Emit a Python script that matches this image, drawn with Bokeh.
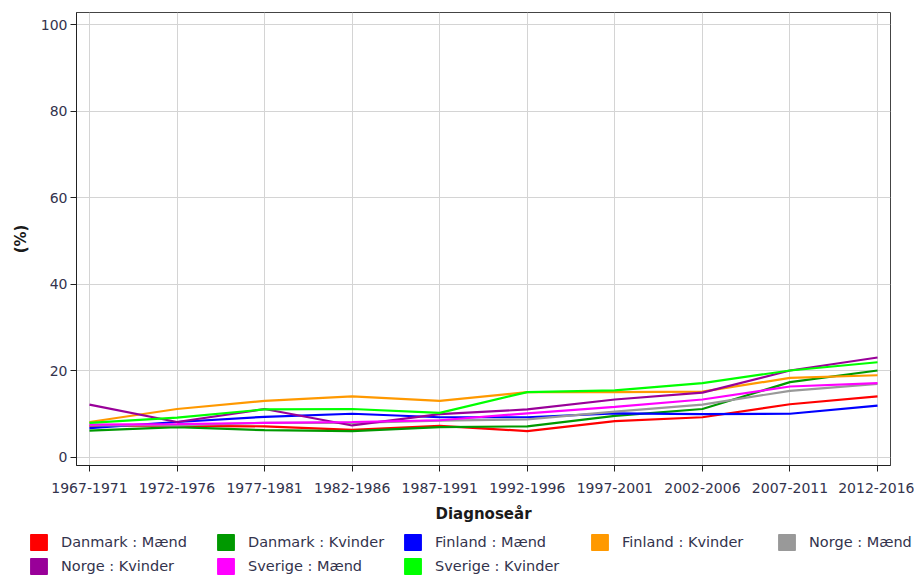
from bokeh.plotting import figure
from bokeh.layouts import column, row
from bokeh.models import (ColumnDataSource, Range1d, FixedTicker, Legend, LegendItem)
from bokeh.embed import file_html
from bokeh.resources import INLINE

periods = ["1967-1971", "1972-1976", "1977-1981", "1982-1986", "1987-1991",
           "1992-1996", "1997-2001", "2002-2006", "2007-2011", "2012-2016"]

danmark_maend = [7.3, 7.3, 7.2, 6.4, 7.3, 6.1, 8.4, 9.3, 12.3, 14.1]
danmark_kvinder = [6.2, 7.0, 6.3, 6.1, 7.0, 7.2, 9.6, 11.2, 17.4, 20.1]
finland_maend = [6.8, 8.2, 9.4, 10.1, 9.3, 9.3, 10.2, 10.0, 10.1, 12.0]
finland_kvinder = [8.2, 11.2, 13.1, 14.1, 13.1, 15.1, 15.1, 15.2, 18.4, 19.0]
norge_maend = [7.4, 7.4, 8.0, 8.0, 8.5, 8.8, 10.6, 12.2, 15.4, 17.0]
norge_kvinder = [12.2, 8.2, 11.2, 7.4, 10.0, 11.1, 13.4, 15.0, 20.1, 23.1]
sverige_maend = [7.6, 7.7, 8.0, 8.2, 8.6, 10.2, 11.7, 13.4, 16.4, 17.2]
sverige_kvinder = [8.0, 9.2, 11.1, 11.2, 10.3, 15.1, 15.5, 17.2, 20.1, 22.0]

series_names = ["Danmark : Mænd", "Danmark : Kvinder", "Finland : Mænd",
                "Finland : Kvinder", "Norge : Mænd", "Norge : Kvinder",
                "Sverige : Mænd", "Sverige : Kvinder"]
series_values = [danmark_maend, danmark_kvinder, finland_maend, finland_kvinder,
                 norge_maend, norge_kvinder, sverige_maend, sverige_kvinder]
series_colors = ["#ff0000", "#009900", "#0000ff", "#ff9900",
                 "#999999", "#990099", "#ff00ff", "#00ff00"]

y_ticks = [0, 20, 40, 60, 80, 100]

FONT = "DejaVu Sans"
TXT = "#33334d"

p = figure(width=914, height=526, output_backend="svg", toolbar_location=None,
           x_range=Range1d(-0.148, 9.148), y_range=Range1d(-1.85, 102.8),
           min_border_left=76, min_border_right=24, min_border_top=12,
           min_border_bottom=61)

xs = list(range(len(periods)))
p.xaxis.ticker = FixedTicker(ticks=xs)
p.xaxis.major_label_overrides = {i: lab for i, lab in enumerate(periods)}
p.yaxis.ticker = FixedTicker(ticks=y_ticks)

for ax in (p.xaxis[0], p.yaxis[0]):
    ax.major_label_text_font = FONT
    ax.major_label_text_font_size = "14px"
    ax.major_label_text_color = TXT
    ax.axis_label_text_font = FONT
    ax.axis_label_text_font_size = "15px"
    ax.axis_label_text_font_style = "bold"
    ax.axis_label_text_color = "#1a1a1a"
    ax.minor_tick_line_color = None
    ax.major_tick_in = 0
    ax.major_tick_out = 6
    ax.major_tick_line_color = "#222222"
    ax.axis_line_color = "#222222"

p.xaxis.axis_label = "Diagnoseår"
p.xaxis.major_label_standoff = 11
p.xaxis.axis_label_standoff = 9
p.yaxis.axis_label = "(%)"
p.yaxis.major_label_standoff = 3
p.yaxis.axis_label_standoff = 8

p.xgrid.grid_line_color = "#d4d4d4"
p.ygrid.grid_line_color = "#d4d4d4"
p.outline_line_color = "#444444"
p.outline_line_width = 1

for vals, col in zip(series_values, series_colors):
    src = ColumnDataSource(dict(x=xs, y=vals))
    p.line("x", "y", source=src, line_color=col, line_width=2.2)

# legend strip below the chart; its swatch renderers sit outside its view range
lg = figure(width=914, height=50, output_backend="svg", toolbar_location=None,
            x_range=Range1d(0, 1), y_range=Range1d(-2, -1),
            min_border_left=0, min_border_right=0, min_border_top=0,
            min_border_bottom=0, outline_line_color=None,
            x_axis_location=None, y_axis_location=None)
lg.grid.visible = False

items = []
for name, vals, col in zip(series_names, series_values, series_colors):
    src = ColumnDataSource(dict(x=xs, y=vals))
    box = lg.rect("x", "y", source=src, width=0.5, height=0.5,
                  fill_color=col, line_color=col)
    items.append(LegendItem(label=name, renderers=[box]))

legend = Legend(items=items, orientation="horizontal", ncols=5,
                location=(28, 0), glyph_width=21, glyph_height=20,
                label_standoff=12, label_width=150, spacing=4, padding=0,
                margin=0, border_line_color=None, background_fill_alpha=0,
                label_text_font=FONT, label_text_font_size="14.5px",
                label_text_color=TXT)
lg.add_layout(legend, "center")

layout = column(p, row(lg), spacing=0)
open("out.html", "w").write(file_html(layout, INLINE))
